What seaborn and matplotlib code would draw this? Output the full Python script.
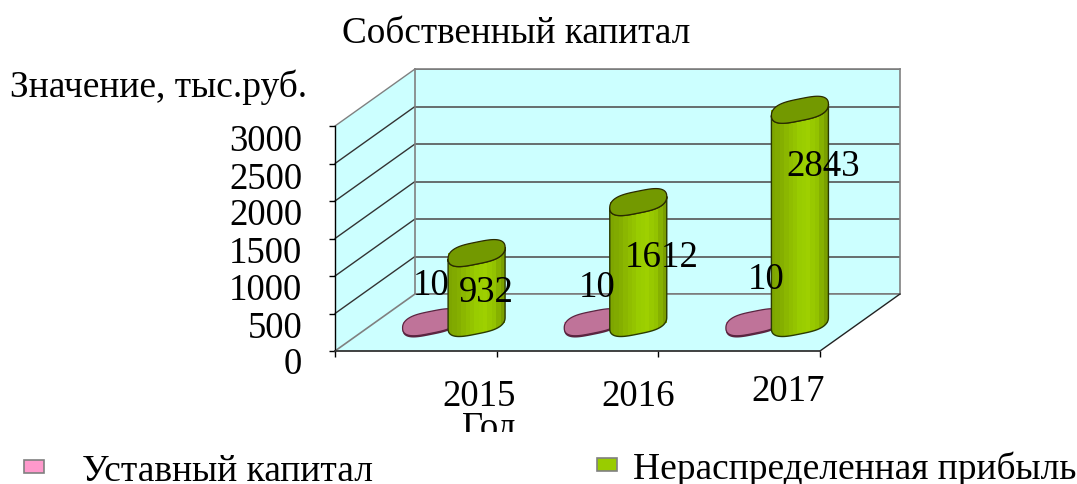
import numpy as np
import pandas as pd
import seaborn as sns
import matplotlib
matplotlib.use("Agg")
import matplotlib.pyplot as plt
from matplotlib.colors import LinearSegmentedColormap
from matplotlib.lines import Line2D
from matplotlib.patches import PathPatch, Polygon
from matplotlib.path import Path
from matplotlib.transforms import Affine2D, Bbox

years = ["2015", "2016", "2017"]
charter_capital = [10, 10, 10]
retained_earnings = [932, 1612, 2843]
series_names = ["Уставный капитал", "Нераспределенная прибыль"]
title = "Собственный капитал"
y_title = "Значение, тыс.руб."
x_title = "Год"
y_ticks = [0, 500, 1000, 1500, 2000, 2500, 3000]

W, H, DPI = 1077, 485, 100
sns.set_theme(style="white")
plt.rcParams["font.family"] = ["Liberation Serif", "DejaVu Serif"]
plt.rcParams["text.color"] = "black"
plt.rcParams["xtick.color"] = "black"
plt.rcParams["ytick.color"] = "black"
plt.rcParams["xtick.bottom"] = True
plt.rcParams["ytick.left"] = True
FS = 26.5
FS_BIG = 27
CYAN = "#ccffff"
GRAY = "#808080"
PINK, PINK_DARK = "#ff99cc", "#bf7399"
GREEN, GREEN_DARK = "#99cc00", "#739900"

fig = plt.figure(figsize=(W / DPI, H / DPI), dpi=DPI, facecolor="white")
px = Affine2D().scale(1, -1).translate(0, H)


def rect(x0, ytop, x1, ybot):
    return [x0 / W, 1 - ybot / H, (x1 - x0) / W, (ybot - ytop) / H]


# ---- pseudo-3D box
fx0, fx1, fy_top, fy_bot = 335, 820, 127, 352
dx, dy = 80, -57
ax_back = fig.add_axes(rect(fx0 + dx, fy_top + dy, fx1 + dx, fy_bot + dy), zorder=0)
ax_back.set_facecolor(CYAN)
ax_back.set_xlim(-0.5, 2.5)
ax_back.set_ylim(0, 3000)
ax_back.set_xticks([])
ax_back.set_yticks(y_ticks)
ax_back.tick_params(length=0, labelleft=False)
ax_back.grid(axis="y", color="#555555", lw=1.2)
for s in ax_back.spines.values():
    s.set_color(GRAY)
    s.set_linewidth(1.2)

ax_front = fig.add_axes(rect(fx0, fy_top, fx1, fy_bot), zorder=1)
ax_front.patch.set_alpha(0)
ax_front.set_xlim(-0.5, 2.5)
ax_front.set_ylim(0, 3000)
ax_front.set_yticks(y_ticks)
ax_front.set_xticks([-0.5, 0.5, 1.5, 2.5])
ax_front.set_xticklabels([])
ax_front.set_xticks([0, 1, 2], labels=years, minor=True)
ax_front.tick_params(axis="y", length=4, width=1, labelsize=FS, pad=19.5)
ax_front.tick_params(axis="x", which="major", direction="out", length=4, width=1)
ax_front.tick_params(axis="x", which="minor", length=0, labelsize=FS, pad=19.5)
for s in ["top", "right"]:
    ax_front.spines[s].set_visible(False)
ax_front.spines["left"].set_color("black")
ax_front.spines["left"].set_linewidth(1)
ax_front.spines["bottom"].set_color("#333333")
ax_front.spines["bottom"].set_linewidth(1.3)
for lab, off in zip(ax_front.get_yticklabels(), [-9, -10, -10, -10, -10, -11, -11]):
    lab.set_transform(lab.get_transform() + Affine2D().translate(0, off))
for lab, (ox, oy) in zip(ax_front.get_xticklabels(minor=True), [(63, 0), (61, 0), (49, 5)]):
    lab.set_transform(lab.get_transform() + Affine2D().translate(ox, oy))

# side wall and floor
corners = {
    "side": [(fx0, fy_top), (fx0 + dx, fy_top + dy), (fx0 + dx, fy_bot + dy), (fx0, fy_bot)],
    "floor": [(fx0, fy_bot), (fx0 + dx, fy_bot + dy), (fx1 + dx, fy_bot + dy), (fx1, fy_bot)],
}
for pts in corners.values():
    fig.add_artist(Polygon(pts, closed=True, fc=CYAN, ec="none", transform=px, zorder=-1))
fig.add_artist(Line2D([fx0, fx0 + dx], [fy_bot, fy_bot + dy], color=GRAY, lw=1.2, transform=px, zorder=-0.5))
fig.add_artist(Line2D([fx1, fx1 + dx], [fy_bot, fy_bot + dy], color="#222222", lw=1, transform=px, zorder=0.5))
fig.canvas.draw()
for v in y_ticks[1:]:
    p0 = ax_front.transData.transform((-0.5, v))
    p1 = ax_back.transData.transform((-0.5, v))
    color = GRAY if v == 3000 else "#333333"
    fig.add_artist(Line2D([p0[0], p1[0]], [p0[1], p1[1]], color=color, lw=1, transform=None, zorder=-0.5))

# ---- bars (a plane midway through the depth)
PX_Y = 225 / 3000
ox, base = 38, 324
ylo, yhi = -400, 3300
ax_bar = fig.add_axes(rect(fx0 + ox, base - yhi * PX_Y, fx1 + ox, base - ylo * PX_Y), zorder=2)
ax_bar.patch.set_alpha(0)
df = pd.DataFrame({
    "year": years * 2,
    "series": [series_names[0]] * 3 + [series_names[1]] * 3,
    "value": charter_capital + retained_earnings,
})
sns.barplot(data=df, x="year", y="value", hue="series", hue_order=series_names,
            order=years, palette=[PINK, GREEN], width=0.563, saturation=1,
            errorbar=None, ax=ax_bar, linewidth=0)
handles, labels = ax_bar.get_legend_handles_labels()
ax_bar.get_legend().remove()
ax_bar.set_xlim(-0.5, 2.5)
ax_bar.set_ylim(ylo, yhi)
ax_bar.axis("off")

PX_X = 3 / (fx1 - fx0)  # category units per pixel
HALF = 28.5
t = np.linspace(0, 2 * np.pi, 121)
c, s_ = np.cos(t), np.sin(t)
cap_x = HALF * np.sign(c) * np.abs(c) ** 0.6
cap_y = 11 * np.sign(s_) * np.abs(s_) ** 0.85 + 0.2 * cap_x


def cap(xc, v):
    return np.c_[xc + cap_x * PX_X, v + cap_y / PX_Y]


cmap = LinearSegmentedColormap.from_list(
    "cyl", ["#7ea600", "#86b000", "#90be00", "#99cc00", "#9ed000", "#94c400", "#7a9f00"])
bar_w = 57 * PX_X
for container, dark in zip(ax_bar.containers, [PINK_DARK, GREEN_DARK]):
    is_green = dark == GREEN_DARK
    for bar in container:
        xc = bar.get_x() + bar.get_width() / 2
        bar.set_x(xc - bar_w / 2)
        bar.set_width(bar_w)
        v = bar.get_height()
        top = cap(xc, v)
        bot = cap(xc, 0)
        if is_green:
            low = (t >= np.pi)
            body = np.vstack([bot[low], top[low][::-1]])
            path = Path(np.vstack([body, body[:1]]), closed=True)
            outline = PathPatch(path, fc="none", ec="#2a3a00", lw=1, zorder=1.6)
            ax_bar.add_patch(outline)
            im = ax_bar.imshow(np.linspace(0, 1, 13)[None, :], cmap=cmap, aspect="auto",
                               extent=(xc - bar_w / 2, xc + bar_w / 2, ylo, yhi), zorder=1.5)
            im.set_clip_path(outline)
        else:
            ax_bar.add_patch(PathPatch(Path(bot + [0, -1 / PX_Y]), fc="#5a2440", ec="none", zorder=1.15))
        ax_bar.add_patch(PathPatch(Path(top), fc=dark, ec="#2a2a00" if is_green else "#5a2440",
                                   lw=0.9, zorder=1.7 if is_green else 1.2))
ax_bar.set_xlim(-0.5, 2.5)
ax_bar.set_ylim(ylo, yhi)

# value labels
offsets = [[(0, 37), (4, 35), (12, 43)], [(10, -39), (23, -55), (23, -56)]]
for container, offs in zip(ax_bar.containers, offsets):
    for bar, off in zip(container, offs):
        ax_bar.annotate(f"{bar.get_height():.0f}",
                        xy=(bar.get_x() + bar.get_width() / 2, bar.get_height()),
                        xytext=off, textcoords="offset pixels", ha="center", va="center",
                        fontsize=FS, color="black", zorder=3)

# ---- texts
fig.text(516, 34, title, transform=px, ha="center", va="center", fontsize=26.8, color="black")
fig.text(10, 87, y_title, transform=px, ha="left", va="center", fontsize=FS_BIG, color="black")
year_lab = fig.text(489, 428, x_title, transform=px, ha="center", va="center", fontsize=FS, color="black")
year_lab.set_clip_box(Bbox([[400, H - 433], [600, H - 405]]))
year_lab.set_clip_on(True)

# ---- legends
for h, l, x, y, pad in zip(handles, labels, [24, 597], [472, 469], [38, 16]):
    leg = fig.legend(handles=[h], labels=[l], loc="center left",
                     bbox_to_anchor=(x / W, 1 - y / H), frameon=False, fontsize=FS_BIG,
                     borderpad=0, borderaxespad=0, handlelength=20 * 0.72 / FS_BIG,
                     handleheight=0.16, handletextpad=pad * 0.72 / FS_BIG)
    leg.legend_handles[0].set_edgecolor(GRAY)
    leg.legend_handles[0].set_linewidth(1.2)

fig.savefig("out.png", dpi=DPI)
